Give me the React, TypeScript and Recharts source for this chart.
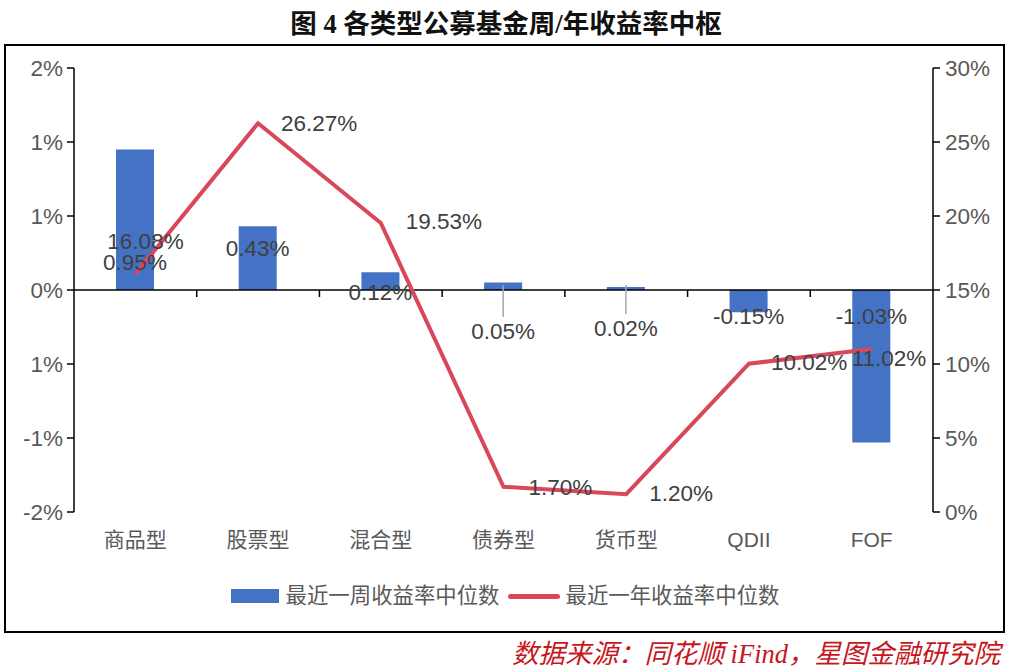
import { ComposedChart, Bar, Line, XAxis, YAxis, ReferenceLine, LabelList } from "recharts";

const CATEGORIES = ["商品型", "股票型", "混合型", "债券型", "货币型", "QDII", "FOF"];
const WEEK_RETURN = [0.95, 0.43, 0.12, 0.05, 0.02, -0.15, -1.03];
const YEAR_RETURN = [16.08, 26.27, 19.53, 1.7, 1.2, 10.02, 11.02];

const LEFT_TICKS = [-1.5, -1, -0.5, 0, 0.5, 1, 1.5];
// the source rounds its tick labels to whole percents (and drops one minus sign)
const LEFT_TICK_LABELS = ["-2%", "-1%", "1%", "0%", "1%", "1%", "2%"];
const RIGHT_TICKS = [0, 5, 10, 15, 20, 25, 30];

const WEEK_NAME = "最近一周收益率中位数";
const YEAR_NAME = "最近一年收益率中位数";

const BAR = "#4472C4";
const LINE = "#D9475B";
const AXIS_TEXT = "#595959";
const LABEL_TEXT = "#404040";
const FONT = "'Liberation Sans', 'Noto Sans CJK SC', sans-serif";
const NUM_SIZE = 22.5;

// hand-placed label nudges, as in the original
const BAR_LABEL_DY = [-28, -42, 2, 41, 38, 26, 26];
const BAR_LEADER = [false, false, false, true, true, false, false];
const LINE_LABEL_DX = [-28, 23, 25, 25, 23, 22, -20];
const LINE_LABEL_DY = [-33, 0, -1, 1, -1, -1, 10];

const data = CATEGORIES.map((name, i) => ({
  name,
  week: WEEK_RETURN[i],
  year: YEAR_RETURN[i],
}));

const pct = (v: number) => `${v.toFixed(2)}%`;

function BarValueLabel(props: any) {
  const { index, value } = props;
  const vb = props.viewBox ?? props;
  const x = Number(vb.x);
  const y = Number(vb.y);
  const w = Number(vb.width);
  const h = Number(vb.height);
  const base = value < 0 && h > 0 ? y : y + h;
  const cx = x + w / 2;
  const cy = base + BAR_LABEL_DY[index];
  return (
    <g>
      {BAR_LEADER[index] ? (
        <line x1={cx} x2={cx} y1={base - 5} y2={cy - 14} stroke="#A6A6A6" strokeWidth={1.5} />
      ) : null}
      <text
        x={cx}
        y={cy}
        textAnchor="middle"
        dominantBaseline="central"
        fontSize={NUM_SIZE}
        fontFamily={FONT}
        fill={LABEL_TEXT}
      >
        {pct(value)}
      </text>
    </g>
  );
}

function LineValueLabel(props: any) {
  const { index, value } = props;
  const px = Number(props.x ?? props.viewBox?.x);
  const py = Number(props.y ?? props.viewBox?.y);
  return (
    <text
      x={px + LINE_LABEL_DX[index]}
      y={py + LINE_LABEL_DY[index]}
      textAnchor="start"
      dominantBaseline="central"
      fontSize={NUM_SIZE}
      fontFamily={FONT}
      fill={LABEL_TEXT}
    >
      {pct(value)}
    </text>
  );
}

function ZeroLine(props: any) {
  const { x1, x2, y1 } = props;
  const n = CATEGORIES.length;
  const ticks = [];
  for (let i = 1; i < n; i++) {
    const tx = x1 + ((x2 - x1) * i) / n;
    ticks.push(<line key={i} x1={tx} x2={tx} y1={y1} y2={y1 + 7} stroke="#000" strokeWidth={1.5} />);
  }
  return (
    <g>
      <line x1={x1} x2={x2} y1={y1} y2={y1} stroke="#000" strokeWidth={1.5} />
      {ticks}
    </g>
  );
}

export default function App() {
  return (
    <div
      style={{
        position: "absolute",
        left: 0,
        top: 0,
        width: 1016,
        height: 672,
        background: "#fff",
        fontFamily: FONT,
      }}
    >
      <div
        style={{
          position: "absolute",
          left: 0,
          top: 8,
          width: 1012,
          textAlign: "center",
          fontSize: 26.5,
          fontWeight: 700,
          fontFamily: "'Liberation Serif', 'Noto Sans CJK SC', serif",
          color: "#111",
          lineHeight: "32px",
        }}
      >
        图 4 各类型公募基金周/年收益率中枢
      </div>

      <div
        style={{
          position: "absolute",
          left: 4,
          top: 44,
          width: 997,
          height: 585,
          border: "2px solid #000",
        }}
      />

      <div style={{ position: "absolute", left: 0, top: 0 }}>
        <ComposedChart
          width={1016}
          height={672}
          data={data}
          margin={{ top: 68, right: 23, bottom: 120, left: 14 }}
        >
          <XAxis
            dataKey="name"
            axisLine={false}
            tickLine={false}
            tickMargin={14}
            height={40}
            interval={0}
            tick={{ fill: AXIS_TEXT, fontSize: 21, fontFamily: FONT }}
          />
          <YAxis
            yAxisId="left"
            domain={[-1.5, 1.5]}
            ticks={LEFT_TICKS}
            width={60}
            interval={0}
            tickSize={7}
            tickMargin={4}
            axisLine={{ stroke: "#000", strokeWidth: 1.5 }}
            tickLine={{ stroke: "#000", strokeWidth: 1.5 }}
            tick={{ fill: AXIS_TEXT, fontSize: NUM_SIZE, fontFamily: FONT }}
            tickFormatter={(v: number) => LEFT_TICK_LABELS[LEFT_TICKS.indexOf(v)] ?? ""}
          />
          <YAxis
            yAxisId="right"
            orientation="right"
            domain={[0, 30]}
            ticks={RIGHT_TICKS}
            width={60}
            interval={0}
            tickSize={7}
            tickMargin={5}
            axisLine={{ stroke: "#000", strokeWidth: 1.5 }}
            tickLine={{ stroke: "#000", strokeWidth: 1.5 }}
            tick={{ fill: AXIS_TEXT, fontSize: NUM_SIZE, fontFamily: FONT }}
            tickFormatter={(v: number) => `${v}%`}
          />
          <Bar yAxisId="left" dataKey="week" name={WEEK_NAME} fill={BAR} barSize={38} isAnimationActive={false}>
            <LabelList dataKey="week" content={BarValueLabel} />
          </Bar>
          <ReferenceLine yAxisId="left" y={0} shape={ZeroLine} />
          <Line
            yAxisId="right"
            type="linear"
            dataKey="year"
            name={YEAR_NAME}
            stroke={LINE}
            strokeWidth={4}
            dot={false}
            activeDot={false}
            isAnimationActive={false}
          >
            <LabelList dataKey="year" content={LineValueLabel} />
          </Line>
        </ComposedChart>
      </div>

      <div
        style={{
          position: "absolute",
          left: 0,
          top: 581,
          width: 1010,
          display: "flex",
          justifyContent: "center",
          alignItems: "center",
          fontSize: 21.4,
          color: AXIS_TEXT,
          lineHeight: "30px",
        }}
      >
        <span style={{ display: "inline-block", width: 48, height: 14, background: BAR, marginRight: 7 }} />
        <span>{WEEK_NAME}</span>
        <span
          style={{
            display: "inline-block",
            width: 52,
            height: 5,
            borderRadius: 3,
            background: LINE,
            margin: "0 6px 0 8px",
          }}
        />
        <span>{YEAR_NAME}</span>
      </div>

      <div
        style={{
          position: "absolute",
          right: 16,
          top: 638,
          fontSize: 26.5,
          fontStyle: "italic",
          fontFamily: "'Liberation Serif', 'Noto Sans CJK SC', serif",
          color: "#C8161D",
          lineHeight: "32px",
          whiteSpace: "nowrap",
        }}
      >
        数据来源：同花顺 iFind，星图金融研究院
      </div>
    </div>
  );
}
